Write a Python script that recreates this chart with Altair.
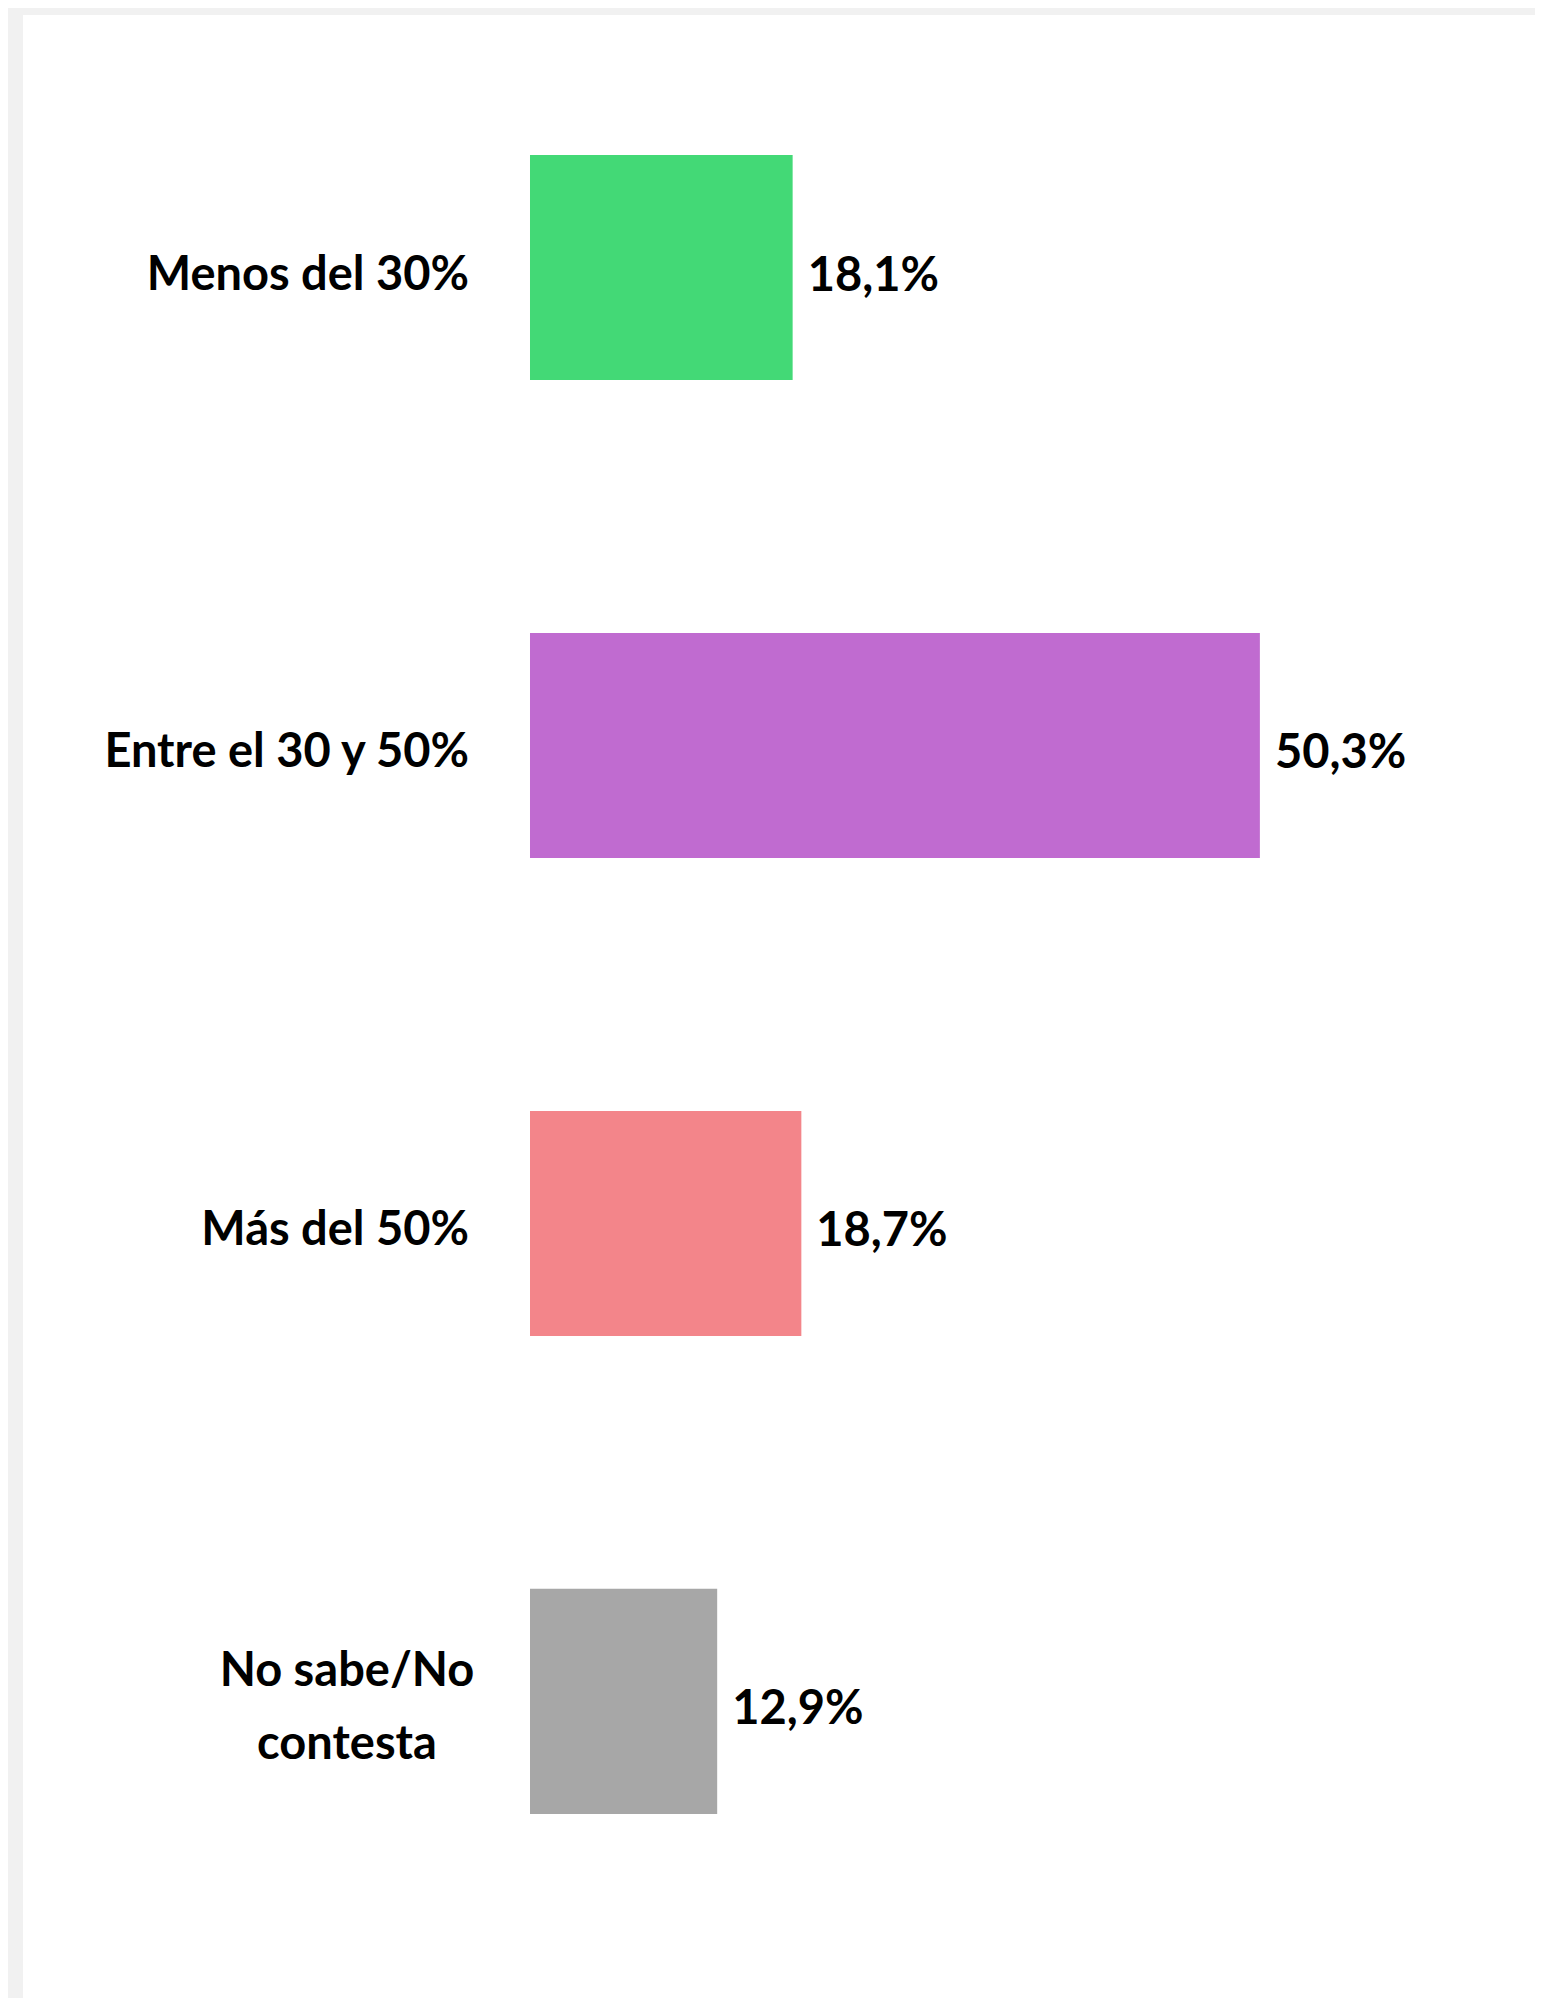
import altair as alt
import pandas as pd

categories = ["Menos del 30%", "Entre el 30 y 50%", "Más del 50%", "No sabe/No contesta"]
label_lines = [["Menos del 30%"], ["Entre el 30 y 50%"], ["Más del 50%"], ["No sabe/No", "contesta"]]
values = [18.1, 50.3, 18.7, 12.9]
value_labels = ["18,1%", "50,3%", "18,7%", "12,9%"]
colors = ["#43D976", "#C06BD0", "#F3858A", "#A7A7A7"]
multiline = [False, False, False, True]

df = pd.DataFrame({
    "cat": categories,
    "lines": label_lines,
    "value": values,
    "vlabel": value_labels,
    "multi": multiline,
})

FONT = "Lato"
FS = 47

y_enc = alt.Y("cat:N", sort=categories, axis=None,
              scale=alt.Scale(paddingInner=0.529, paddingOuter=0.339, align=0.432))
x_scale = alt.Scale(domain=[-34.94, 69.26], nice=False, zero=False)

base = alt.Chart(df)

bars = base.mark_bar().encode(
    x=alt.X("value:Q", scale=x_scale, axis=None),
    x2=alt.datum(0),
    y=y_enc,
    color=alt.Color("cat:N", scale=alt.Scale(domain=categories, range=colors), legend=None),
)

vals = base.mark_text(align="left", baseline="middle", dx=15, dy=9, font=FONT,
                      fontWeight="bold", fontSize=FS, color="#000000").encode(
    x=alt.X("value:Q", scale=x_scale, axis=None),
    y=y_enc,
    text="vlabel:N",
)

cat_single = base.transform_filter("!datum.multi").mark_text(
    align="right", baseline="middle", dx=-61, dy=8, font=FONT, fontWeight="bold",
    fontSize=FS, color="#000000").encode(
    x=alt.datum(0, scale=x_scale),
    y=y_enc,
    text="lines",
)

cat_multi = base.transform_filter("datum.multi").mark_text(
    align="center", baseline="middle", dx=-183, dy=-29, font=FONT, fontWeight="bold",
    fontSize=FS, lineHeight=73, color="#000000").encode(
    x=alt.datum(0, scale=x_scale),
    y=y_enc,
    text="lines",
)

chart = alt.layer(bars, vals, cat_single, cat_multi).properties(
    width=1512, height=1983,
    padding={"left": 15, "top": 7, "right": 0, "bottom": 0},
    background="#F1F1F1",
).configure_view(stroke=None, fill="#FFFFFF")

chart.save("out.html", embed_options={"renderer": "svg", "actions": False})
